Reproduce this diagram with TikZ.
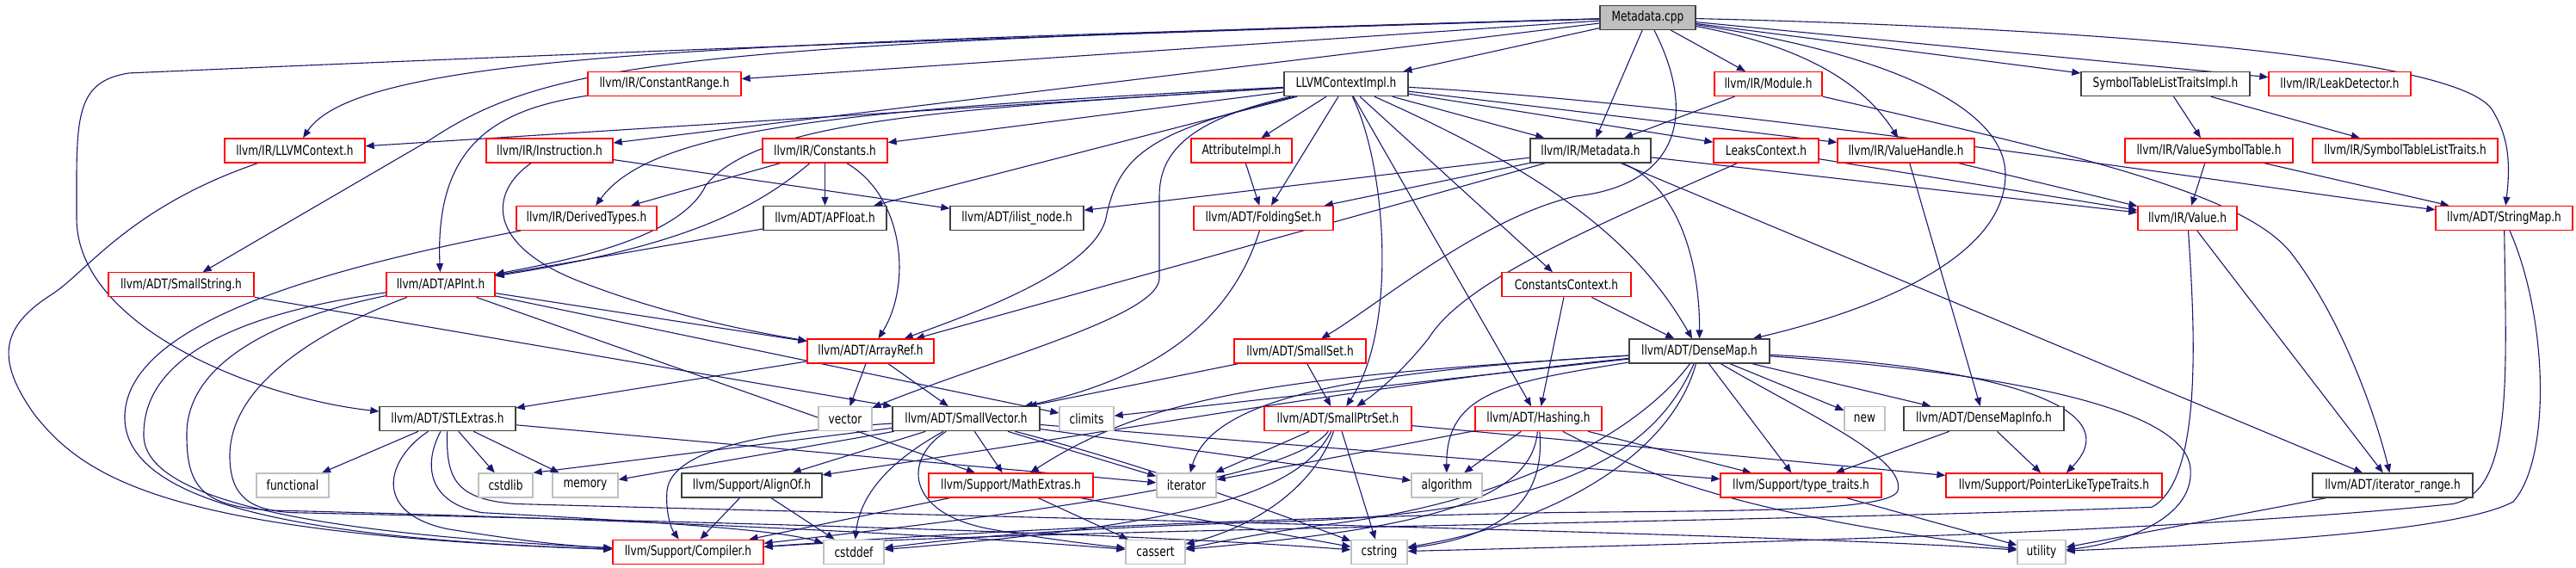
\documentclass[tikz,border=0pt]{standalone}
\usepackage{fontspec}
\newfontfamily\nf{DejaVu Sans}[FakeStretch=0.78]
\usetikzlibrary{arrows.meta}
\definecolor{edgec}{HTML}{191970}
\definecolor{redb}{HTML}{FF0000}
\definecolor{greyb}{HTML}{BFBFBF}
\definecolor{blackb}{HTML}{404040}
\definecolor{rootf}{HTML}{BFBFBF}
\pgfdeclarelayer{bgl}
\pgfdeclarelayer{edl}
\pgfsetlayers{bgl,edl,main}
\begin{document}
\begin{tikzpicture}[x=1pt,y=-1.2674pt,
  nd/.style={rectangle,inner sep=0pt,minimum height=28pt,line width=1.3pt,fill=white,text=black,font=\nf\fontsize{15.6}{18}\selectfont},
  rn/.style={nd,draw=redb},
  bn/.style={nd,draw=blackb},
  gn/.style={nd,draw=greyb},
  root/.style={nd,draw=blackb,fill=rootf},
  e/.style={draw=edgec,line width=1.1pt,-{Triangle[length=10pt,width=8pt]}}]
\begin{pgfonlayer}{bgl}
\fill[white] (0,0) rectangle (2993,520);
\end{pgfonlayer}
\useasboundingbox (0,0) rectangle (2993,520);
% row 0
\node[root,minimum width=111pt] (meta) at (1914.5,16) {Metadata.cpp};
% row 1
\node[rn,minimum width=178pt] (cr) at (772,77) {llvm/IR/ConstantRange.h};
\node[bn,minimum width=144pt] (lci) at (1564,77) {LLVMContextImpl.h};
\node[rn,minimum width=125pt] (mod) at (2054.5,77) {llvm/IR/Module.h};
\node[bn,minimum width=196pt] (stlti) at (2516,77) {SymbolTableListTraitsImpl.h};
\node[rn,minimum width=165pt] (ld) at (2718.5,77) {llvm/IR/LeakDetector.h};
% row 2
\node[rn,minimum width=163pt] (llc) at (342.5,138) {llvm/IR/LLVMContext.h};
\node[rn,minimum width=147pt] (ins) at (638.5,138) {llvm/IR/Instruction.h};
\node[rn,minimum width=145pt] (con) at (958.5,138) {llvm/IR/Constants.h};
\node[rn,minimum width=117pt] (attr) at (1442.5,138) {AttributeImpl.h};
\node[bn,minimum width=140pt] (mdh) at (1848,138) {llvm/IR/Metadata.h};
\node[rn,minimum width=122pt] (lc) at (2052,138) {LeaksContext.h};
\node[rn,minimum width=159pt] (vh) at (2214.5,138) {llvm/IR/ValueHandle.h};
\node[rn,minimum width=195pt] (vst) at (2566.5,138) {llvm/IR/ValueSymbolTable.h};
\node[rn,minimum width=215pt] (stlt) at (2794.5,138) {llvm/IR/SymbolTableListTraits.h};
% row 3
\node[rn,minimum width=163pt] (dt) at (681.5,200) {llvm/IR/DerivedTypes.h};
\node[bn,minimum width=143pt] (apf) at (958.5,200) {llvm/ADT/APFloat.h};
\node[bn,minimum width=155pt] (iln) at (1181.5,200) {llvm/ADT/ilist\_node.h};
\node[rn,minimum width=162pt] (fs) at (1468,200) {llvm/ADT/FoldingSet.h};
\node[rn,minimum width=115pt] (val) at (2541.5,200) {llvm/IR/Value.h};
\node[rn,minimum width=159pt] (sm) at (2909.5,200) {llvm/ADT/StringMap.h};
% row 4
\node[rn,minimum width=169pt] (ss) at (210.5,261) {llvm/ADT/SmallString.h};
\node[rn,minimum width=126pt] (api) at (512,261) {llvm/ADT/APInt.h};
\node[rn,minimum width=150pt] (cc) at (1820,261) {ConstantsContext.h};
% row 5
\node[rn,minimum width=147pt] (ar) at (1011.5,322) {llvm/ADT/ArrayRef.h};
\node[rn,minimum width=153pt] (sset) at (1510.5,322) {llvm/ADT/SmallSet.h};
\node[bn,minimum width=163pt] (dm) at (1974.5,322) {llvm/ADT/DenseMap.h};
% row 6
\node[bn,minimum width=158pt] (stl) at (520,384) {llvm/ADT/STLExtras.h};
\node[gn,minimum width=62pt] (vec) at (982,384) {vector};
\node[bn,minimum width=171pt] (sv) at (1122.5,384) {llvm/ADT/SmallVector.h};
\node[gn,minimum width=63pt] (cl) at (1262.5,384) {climits};
\node[rn,minimum width=171pt] (sps) at (1554.5,384) {llvm/ADT/SmallPtrSet.h};
\node[rn,minimum width=147pt] (hs) at (1787.5,384) {llvm/ADT/Hashing.h};
\node[gn,minimum width=47pt] (nw) at (2166.5,384) {new};
\node[bn,minimum width=186pt] (dmi) at (2305,384) {llvm/ADT/DenseMapInfo.h};
% row 7
\node[gn,minimum width=84pt] (fun) at (340,445) {functional};
\node[gn,minimum width=63pt] (csl) at (587.5,445) {cstdlib};
\node[gn,minimum width=76pt] (mem) at (680,445) {memory};
\node[bn,minimum width=163pt] (ao) at (873.5,445) {llvm/Support/AlignOf.h};
\node[rn,minimum width=191pt] (me) at (1174.5,445) {llvm/Support/MathExtras.h};
\node[gn,minimum width=69pt] (it) at (1378.5,445) {iterator};
\node[gn,minimum width=82pt] (alg) at (1681,445) {algorithm};
\node[rn,minimum width=187pt] (tt) at (2092.5,445) {llvm/Support/type\_traits.h};
\node[rn,minimum width=251pt] (pltt) at (2386.5,445) {llvm/Support/PointerLikeTypeTraits.h};
\node[bn,minimum width=186pt] (itr) at (2780,445) {llvm/ADT/iterator\_range.h};
% row 8
\node[rn,minimum width=175pt] (comp) at (799.5,506) {llvm/Support/Compiler.h};
\node[gn,minimum width=70pt] (cdf) at (992,506) {cstddef};
\node[gn,minimum width=69pt] (cas) at (1342.5,506) {cassert};
\node[gn,minimum width=65pt] (cst) at (1602.5,506) {cstring};
\node[gn,minimum width=56pt] (util) at (2372,506) {utility};

\begin{pgfonlayer}{edl}
% Metadata.cpp
\draw[e] (meta) -- (lci);
\draw[e] (meta) -- (cr);
\draw[e] (meta) -- (ins);
\draw[e] (meta) .. controls (900,40) and (420,45) .. (llc);
\draw[e] (meta) .. controls (800,40) and (640,55) .. (500,128) -- (ss);
\draw[e] (meta) .. controls (900,40) and (300,62) .. (150,67) .. controls (85,75) and (89,110) .. (89,200) .. controls (89,300) and (300,365) .. (stl);
\draw[e] (meta) -- (mdh);
\draw[e] (meta) .. controls (1975,110) and (1945,170) .. (1830,180) .. controls (1720,200) and (1600,280) .. (sset);
\draw[e] (meta) .. controls (2200,50) and (2330,100) .. (2330,160) .. controls (2330,230) and (2200,280) .. (dm);
\draw[e] (meta) -- (mod);
\draw[e] (meta) .. controls (2080,40) and (2160,70) .. (vh);
\draw[e] (meta) -- (stlti);
\draw[e] (meta) -- (ld);
\draw[e] (meta) .. controls (2400,25) and (2850,50) .. (2895,100) .. controls (2915,125) and (2917,150) .. (sm);
% LLVMContextImpl.h
\draw[e] (lci) -- (llc);
\draw[e] (lci) -- (con);
\draw[e] (lci) .. controls (1000,100) and (760,115) .. (dt);
\draw[e] (lci) .. controls (1100,100) and (880,110) .. (820,170) .. controls (790,220) and (650,240) .. (api);
\draw[e] (lci) -- (apf);
\draw[e] (lci) .. controls (1340,120) and (1300,140) .. (1285,200) .. controls (1270,250) and (1120,290) .. (ar);
\draw[e] (lci) .. controls (1380,110) and (1347,140) .. (1347,180) -- (1347,255) .. controls (1347,290) and (1150,330) .. (vec);
\draw[e] (lci) -- (attr);
\draw[e] (lci) -- (fs);
\draw[e] (lci) -- (mdh);
\draw[e] (lci) -- (lc);
\draw[e] (lci) -- (vh);
\draw[e] (lci) .. controls (2000,95) and (2650,175) .. (sm);
\draw[e] (lci) .. controls (1610,150) and (1625,300) .. (sps);
\draw[e] (lci) -- (hs);
\draw[e] (lci) -- (cc);
\draw[e] (lci) .. controls (1800,160) and (1900,220) .. (dm);
% second level
\draw[e] (cr) .. controls (580,100) and (505,130) .. (api);
\draw[e] (llc) .. controls (150,190) and (100,250) .. (60,270) .. controls (0,300) and (-5,330) .. (40,380) .. controls (100,440) and (200,490) .. (comp);
\draw[e] (ins) .. controls (570,175) and (560,225) .. (680,260) .. controls (780,290) and (880,305) .. (ar);
\draw[e] (ins) -- (iln);
\draw[e] (con) -- (dt);
\draw[e] (con) -- (apf);
\draw[e] (con) .. controls (880,190) and (800,225) .. (api);
\draw[e] (con) .. controls (1050,180) and (1060,260) .. (ar);
\draw[e] (attr) -- (fs);
\draw[e] (mdh) -- (iln);
\draw[e] (mdh) -- (fs);
\draw[e] (mdh) -- (ar);
\draw[e] (mdh) .. controls (1950,170) and (1975,240) .. (dm);
\draw[e] (mdh) -- (itr);
\draw[e] (mdh) -- (val);
\draw[e] (mod) -- (mdh);
\draw[e] (mod) .. controls (2400,140) and (2600,175) .. (2660,230) .. controls (2720,290) and (2760,380) .. (itr);
\draw[e] (lc) -- (val);
\draw[e] (lc) .. controls (1830,215) and (1700,260) .. (1660,310) .. controls (1630,340) and (1600,360) .. (sps);
\draw[e] (vh) -- (val);
\draw[e] (vh) -- (dmi);
\draw[e] (stlti) -- (vst);
\draw[e] (stlti) -- (stlt);
\draw[e] (vst) -- (val);
\draw[e] (vst) -- (sm);
\draw[e] (dt) .. controls (350,250) and (150,300) .. (145,380) .. controls (140,470) and (400,495) .. (comp);
\draw[e] (apf) -- (api);
\draw[e] (fs) .. controls (1440,270) and (1380,340) .. (sv);
\draw[e] (val) -- (itr);
\draw[e] (val) .. controls (2550,300) and (2560,440) .. (2500,465) .. controls (2000,480) and (1200,485) .. (comp);
\draw[e] (sm) .. controls (2912,350) and (2920,450) .. (2850,462) .. controls (2500,490) and (1900,500) .. (cst);
\draw[e] (sm) .. controls (2960,290) and (2965,420) .. (2920,460) .. controls (2850,490) and (2550,500) .. (util);
\draw[e] (ss) -- (sv);
% APInt
\draw[e] (api) -- (ar);
\draw[e] (api) -- (cl);
\draw[e] (api) -- (me);
\draw[e] (api) .. controls (300,285) and (165,320) .. (167,400) .. controls (170,470) and (450,492) .. (comp);
\draw[e] (api) .. controls (330,290) and (215,330) .. (217,400) .. controls (217,450) and (240,465) .. (320,468) .. controls (700,475) and (1100,490) .. (cas);
\draw[e] (api) .. controls (380,300) and (265,350) .. (267,420) .. controls (268,455) and (290,468) .. (340,470) .. controls (800,478) and (1300,488) .. (cst);
\draw[e] (cc) -- (dm);
\draw[e] (cc) -- (hs);
\draw[e] (ar) -- (stl);
\draw[e] (ar) -- (vec);
\draw[e] (ar) -- (sv);
\draw[e] (sset) -- (sv);
\draw[e] (sset) -- (sps);
% DenseMap
\draw[e] (dm) -- (nw);
\draw[e] (dm) -- (dmi);
\draw[e] (dm) -- (tt);
\draw[e] (dm) .. controls (2300,335) and (2480,370) .. (pltt);
\draw[e] (dm) .. controls (2300,340) and (2540,370) .. (2545,430) .. controls (2550,480) and (2450,500) .. (util);
\draw[e] (dm) -- (cl);
\draw[e] (dm) .. controls (1600,340) and (1410,360) .. (it);
\draw[e] (dm) .. controls (1750,350) and (1680,360) .. (alg);
\draw[e] (dm) .. controls (1500,345) and (1340,360) .. (me);
\draw[e] (dm) .. controls (1600,352) and (1300,395) .. (ao);
\draw[e] (dm) .. controls (1900,400) and (1750,460) .. (1550,480) .. controls (1450,490) and (1400,500) .. (cas);
\draw[e] (dm) .. controls (1920,420) and (1800,470) .. (1500,478) .. controls (1200,485) and (1100,495) .. (cdf);
\draw[e] (dm) .. controls (1940,420) and (1800,480) .. (cst);
\draw[e] (dm) .. controls (2100,380) and (2215,420) .. (2205,450) .. controls (2195,470) and (2000,468) .. (1800,470) .. controls (1300,478) and (1000,495) .. (comp);
% STLExtras
\draw[e] (stl) -- (fun);
\draw[e] (stl) -- (csl);
\draw[e] (stl) -- (mem);
\draw[e] (stl) -- (it);
\draw[e] (stl) .. controls (450,420) and (430,470) .. (520,485) .. controls (600,495) and (650,500) .. (comp);
\draw[e] (stl) .. controls (495,420) and (490,460) .. (560,470) .. controls (750,478) and (900,485) .. (cdf);
\draw[e] (stl) .. controls (518,440) and (530,458) .. (600,462) .. controls (1200,475) and (2100,490) .. (util);
% SmallVector
\draw[e] (sv) -- (ao);
\draw[e] (sv) .. controls (900,395) and (780,410) .. (775,450) .. controls (773,470) and (780,485) .. (comp);
\draw[e] (sv) -- (me);
\draw[e] (sv) -- (tt);
\draw[e] (sv) -- (alg);
\draw[e] (sv) .. controls (1050,420) and (1050,470) .. (1150,485) .. controls (1220,495) and (1280,500) .. (cas);
\draw[e] (sv) .. controls (1040,420) and (1000,450) .. (cdf);
\draw[e] (sv) -- (csl.north east);
\draw[e] (sv) .. controls (1300,420) and (1450,460) .. (cst);
\draw[e] (sv) -- (it);
\draw[e] (sv) -- (mem);
% SmallPtrSet
\draw[e] (sps) -- (pltt);
\draw[e] (sps) -- (it);
\draw[e] (sps) -- (cst);
\draw[e] (sps) .. controls (1530,440) and (1470,480) .. (cas);
\draw[e] (sps) .. controls (1510,450) and (1400,480) .. (cdf);
\draw[e] (sps) .. controls (1500,440) and (1200,470) .. (comp);
% Hashing
\draw[e] (hs) -- (alg);
\draw[e] (hs) -- (tt);
\draw[e] (hs) -- (it);
\draw[e] (hs) .. controls (1780,460) and (1650,485) .. (cas);
\draw[e] (hs) .. controls (1795,450) and (1760,490) .. (cst);
\draw[e] (hs) .. controls (1900,430) and (2000,470) .. (util);
% lower
\draw[e] (dmi) -- (tt);
\draw[e] (dmi) -- (pltt);
\draw[e] (ao) -- (comp);
\draw[e] (ao) -- (cdf);
\draw[e] (me) -- (comp);
\draw[e] (me) -- (cas);
\draw[e] (me) -- (cst);
\draw[e] (tt) -- (util);
\draw[e] (itr) -- (util);
\end{pgfonlayer}
\end{tikzpicture}
\end{document}
